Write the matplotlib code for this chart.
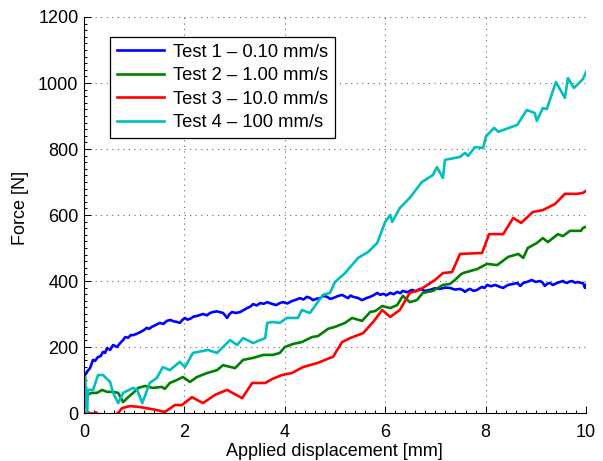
import numpy as np
import matplotlib
matplotlib.use('Agg')
import matplotlib.pyplot as plt
from matplotlib.ticker import MultipleLocator

plt.rcParams['font.family'] = ['Liberation Sans', 'DejaVu Sans']

t1_x = [0.0, 0.02, 0.06, 0.12, 0.18, 0.22, 0.28, 0.33, 0.38, 0.42,
        0.46, 0.52, 0.58, 0.62, 0.66, 0.72, 0.78, 0.82, 0.88, 0.93,
        0.98, 1.05, 1.12, 1.18, 1.25, 1.30, 1.35, 1.42, 1.51, 1.58,
        1.65, 1.72, 1.78, 1.85, 1.91, 1.96, 2.01, 2.06, 2.11, 2.18,
        2.25, 2.31, 2.37, 2.45, 2.51, 2.57, 2.65, 2.72, 2.77, 2.81,
        2.85, 2.90, 2.95, 3.02, 3.11, 3.18, 3.25, 3.31, 3.37, 3.44,
        3.51, 3.58, 3.65, 3.70, 3.76, 3.83, 3.90, 3.96, 4.05, 4.14,
        4.22, 4.30, 4.37, 4.44, 4.50, 4.56, 4.63, 4.70, 4.77, 4.84,
        4.90, 4.96, 5.05, 5.14, 5.20, 5.26, 5.31, 5.36, 5.45, 5.54,
        5.62, 5.70, 5.77, 5.84, 5.90, 5.96, 6.03, 6.10, 6.17, 6.24,
        6.30, 6.35, 6.44, 6.53, 6.61, 6.69, 6.79, 6.89, 6.99, 7.09,
        7.19, 7.29, 7.39, 7.49, 7.55, 7.59, 7.64, 7.69, 7.76, 7.83,
        7.88, 7.93, 7.98, 8.03, 8.11, 8.19, 8.27, 8.35, 8.40, 8.45,
        8.54, 8.63, 8.69, 8.75, 8.84, 8.92, 9.00, 9.08, 9.13, 9.18,
        9.23, 9.28, 9.34, 9.42, 9.48, 9.54, 9.58, 9.62, 9.67, 9.72,
        9.78, 9.84, 9.90, 9.94, 9.98, 10.0]
t1_y = [60, 115, 125, 136, 161, 158, 170, 172, 185, 182,
        197, 191, 206, 203, 200, 212, 221, 230, 228, 236,
        236, 240, 245, 250, 258, 255, 261, 266, 273, 270,
        279, 282, 278, 276, 273, 282, 288, 283, 285, 292,
        294, 297, 300, 296, 303, 306, 308, 305, 303, 296,
        288, 300, 306, 303, 306, 312, 318, 322, 330, 326,
        333, 331, 336, 333, 330, 327, 333, 336, 332, 339,
        343, 348, 344, 352, 349, 342, 346, 348, 355, 352,
        346, 348, 354, 358, 353, 348, 356, 352, 349, 342,
        348, 352, 357, 364, 358, 361, 357, 364, 360, 367,
        363, 370, 366, 373, 369, 376, 370, 373, 378, 376,
        380, 379, 374, 376, 372, 367, 373, 376, 370, 373,
        378, 382, 379, 388, 384, 388, 383, 379, 384, 388,
        391, 394, 385, 394, 398, 403, 397, 400, 396, 385,
        392, 394, 388, 394, 397, 400, 396, 394, 398, 400,
        395, 397, 394, 394, 379, 388]

# Test 2 - 1.00 mm/s
t2_x = [0.0, 0.02, 0.06, 0.16, 0.26, 0.36, 0.46, 0.58, 0.68, 0.78,
        0.88, 0.98, 1.08, 1.22, 1.37, 1.55, 1.61, 1.71, 1.85, 1.97,
        2.11, 2.25, 2.45, 2.65, 2.77, 3.01, 3.17, 3.37, 3.57, 3.76,
        3.90, 4.00, 4.16, 4.34, 4.54, 4.66, 4.86, 5.00, 5.20, 5.34,
        5.54, 5.70, 5.80, 5.94, 6.10, 6.24, 6.35, 6.49, 6.63, 6.75,
        6.95, 7.15, 7.29, 7.39, 7.49, 7.55, 7.83, 8.03, 8.23, 8.45,
        8.65, 8.75, 8.84, 9.02, 9.14, 9.24, 9.44, 9.54, 9.68, 9.90,
        9.94, 10.0]
t2_y = [20, 45, 55, 61, 61, 70, 64, 64, 61, 33,
        48, 61, 76, 82, 76, 79, 73, 91, 100, 109,
        94, 109, 121, 130, 145, 136, 161, 167, 176, 176,
        182, 200, 209, 215, 230, 233, 255, 261, 273, 288,
        279, 306, 309, 324, 318, 327, 355, 336, 342, 364,
        370, 388, 391, 403, 418, 424, 436, 452, 448, 473,
        482, 470, 500, 515, 530, 518, 542, 536, 552, 552,
        561, 564]

# Test 3 - 10.0 mm/s
t3_x = [0.0, 0.08, 0.16, 0.24, 0.32, 0.50, 0.62, 0.68, 0.76, 0.92,
        1.12, 1.45, 1.61, 1.81, 1.95, 2.15, 2.37, 2.61, 2.85, 3.15,
        3.35, 3.61, 3.75, 3.94, 4.14, 4.36, 4.66, 4.90, 4.96, 5.14,
        5.30, 5.56, 5.76, 5.94, 6.10, 6.29, 6.49, 6.69, 6.99, 7.15,
        7.33, 7.49, 7.93, 8.07, 8.35, 8.55, 8.71, 8.94, 9.14, 9.38,
        9.58, 9.82, 9.94, 10.0]
t3_y = [0, 2, -3, 2, -10, -15, -5, 0, 15, 21,
        18, 9, 3, 24, 24, 48, 30, 55, 70, 45,
        91, 91, 103, 115, 121, 139, 152, 167, 170, 215,
        227, 242, 276, 312, 291, 312, 364, 373, 403, 424,
        427, 482, 485, 542, 542, 591, 576, 609, 615, 633,
        664, 664, 667, 673]

# Test 4 - 100 mm/s
t4_x = [0.0, 0.02, 0.04, 0.06, 0.08, 0.18, 0.28, 0.38, 0.52, 0.58,
        0.68, 0.78, 0.98, 1.06, 1.16, 1.31, 1.45, 1.57, 1.71, 1.91,
        2.01, 2.17, 2.47, 2.65, 2.91, 3.05, 3.17, 3.37, 3.61, 3.65,
        3.76, 3.90, 4.04, 4.26, 4.34, 4.50, 4.76, 4.90, 5.00, 5.20,
        5.46, 5.66, 5.84, 6.00, 6.10, 6.14, 6.29, 6.49, 6.73, 6.95,
        7.03, 7.15, 7.19, 7.49, 7.59, 7.65, 7.79, 7.95, 8.01, 8.17,
        8.25, 8.63, 8.82, 8.98, 9.02, 9.14, 9.22, 9.40, 9.58, 9.64,
        9.76, 9.94, 10.0]
t4_y = [30, 109, 60, 0, 70, 70, 115, 115, 94, 61,
        30, 61, 76, 70, 30, 91, 106, 139, 130, 155,
        139, 182, 191, 182, 221, 206, 227, 212, 227, 273,
        276, 273, 288, 288, 312, 303, 358, 364, 397, 424,
        470, 488, 515, 579, 600, 579, 621, 652, 700, 721,
        745, 712, 767, 776, 788, 779, 806, 803, 839, 864,
        852, 873, 918, 909, 885, 924, 921, 1003, 955, 1015,
        985, 1012, 1033]

labels = ['Test 1 \u2013 0.10 mm/s', 'Test 2 \u2013 1.00 mm/s',
          'Test 3 \u2013 10.0 mm/s', 'Test 4 \u2013 100 mm/s']
colors = ['#0000ff', '#008000', '#ff0000', '#00bfbf']

fig = plt.figure(figsize=(6.03, 4.61), dpi=100)
ax = fig.add_axes([84/603., 48/461., 502/603., 396/461.])

series = [(t1_x, t1_y), (t2_x, t2_y), (t3_x, t3_y), (t4_x, t4_y)]
for (xs, ys), c, lab in zip(series, colors, labels):
    ax.plot(xs, ys, color=c, lw=1.9, label=lab)

ax.set_xlim(0, 10)
ax.set_ylim(0, 1200)
ax.xaxis.set_major_locator(MultipleLocator(2))
ax.yaxis.set_major_locator(MultipleLocator(200))
ax.xaxis.set_minor_locator(MultipleLocator(0.2))
ax.yaxis.set_minor_locator(MultipleLocator(20))
for s in ['top', 'right']:
    ax.spines[s].set_visible(False)
for s in ['left', 'bottom']:
    ax.spines[s].set_linewidth(0.8)
ax.tick_params(which='both', direction='in', labelsize=13, width=0.7)
ax.tick_params(which='major', length=5)
ax.tick_params(which='minor', length=2.5)
ax.tick_params(axis='x', pad=8)
ax.tick_params(axis='y', pad=4)
ax.grid(True, which='major', linestyle=(0, (1, 4)), color='#666666', lw=0.8)

ax.set_xlabel('Applied displacement [mm]', fontsize=13)
ax.set_ylabel('Force [N]', fontsize=13)
ax.xaxis.set_label_coords(0.498, -0.076)
ax.yaxis.set_label_coords(-0.11, 0.518)

leg = ax.legend(loc='upper left', bbox_to_anchor=(0.052, 0.949), borderaxespad=0,
                fontsize=13.2, fancybox=False, framealpha=1, edgecolor='black',
                handlelength=2.6, labelspacing=0.36, borderpad=0.35, handletextpad=0.5)
leg.get_frame().set_linewidth(0.9)

fig.savefig('out.png', dpi=100)
